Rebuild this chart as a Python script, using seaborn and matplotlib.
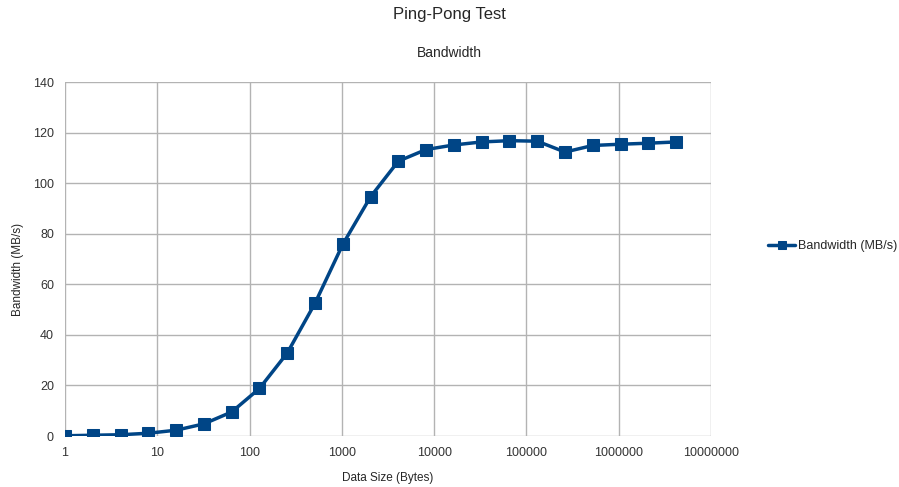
import numpy as np
import pandas as pd
import matplotlib
matplotlib.use("Agg")
import matplotlib.pyplot as plt
import seaborn as sns
from matplotlib.ticker import FixedLocator, NullLocator

# message sizes (bytes) and measured bandwidth (MB/s)
data_size = [1, 2, 4, 8, 16, 32, 64, 128, 256, 512, 1024, 2048, 4096, 8192,
             16384, 32768, 65536, 131072, 262144, 524288, 1048576, 2097152, 4194304]
bandwidth = [0.1, 0.3, 0.5, 1.1, 2.3, 4.8, 9.5, 18.8, 32.8, 52.5, 75.8, 94.6, 108.7, 113.3,
             115.1, 116.3, 116.8, 116.6, 112.3, 114.9, 115.4, 115.8, 116.3]
x_ticks = [1, 10, 100, 1000, 10000, 100000, 1000000, 10000000]
y_ticks = [0, 20, 40, 60, 80, 100, 120, 140]

df = pd.DataFrame({"size": data_size, "bw": bandwidth})

sns.set_style("white")
plt.rcParams["font.family"] = ["Liberation Sans", "DejaVu Sans"]

line_color = "#004586"
grid_color = "#b3b3b3"

fig = plt.figure(figsize=(8.99, 4.87), dpi=100)
ax = fig.add_axes([0.0723, 0.1047, 0.7185, 0.7269])

sns.lineplot(data=df, x="size", y="bw", ax=ax, color=line_color, linewidth=2.5,
             marker="s", markersize=8, markeredgecolor=line_color,
             label="Bandwidth (MB/s)")

ax.set_xscale("log")
ax.set_xlim(1, 1e7)
ax.set_ylim(0, 140)
ax.xaxis.set_major_locator(FixedLocator(x_ticks))
ax.xaxis.set_minor_locator(NullLocator())
ax.set_xticks(x_ticks)
ax.set_xticklabels([str(t) for t in x_ticks])
ax.set_yticks(y_ticks)
ax.grid(True, color=grid_color, linewidth=1)
ax.set_axisbelow(True)
for s in ax.spines.values():
    s.set_visible(False)
ax.tick_params(axis="both", length=4, color=grid_color, labelsize=9, labelcolor="#333333", pad=4)

ax.set_xlabel("Data Size (Bytes)", fontsize=8.5, labelpad=9)
ax.set_ylabel("Bandwidth (MB/s)", fontsize=8.5, labelpad=4)
ax.yaxis.set_label_coords(-0.063, 0.47)

fig.text(0.5, 1 - 15 / 487, "Ping-Pong Test", ha="center", va="center", fontsize=12)
fig.text(0.5, 1 - 53 / 487, "Bandwidth", ha="center", va="center", fontsize=10)

leg = ax.legend(loc="center left", bbox_to_anchor=(1.088, 0.537), frameon=False,
                fontsize=9, handlelength=2.2, handletextpad=0.2,
                borderaxespad=0, borderpad=0)
for h in leg.get_lines():
    h.set_markersize(6)

fig.savefig("out.png", dpi=100)
